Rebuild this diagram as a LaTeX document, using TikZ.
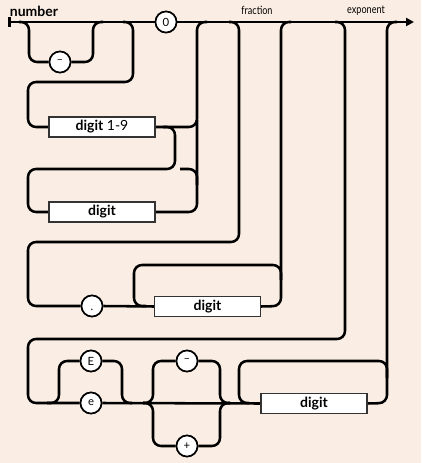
\documentclass[tikz,border=0pt]{standalone}
\usepackage{fontspec}
\setmainfont{Lato}
\usetikzlibrary{arrows.meta}
\definecolor{bg}{RGB}{250,238,228}
\begin{document}
\begin{tikzpicture}[x=0.75pt,y=-0.75pt,
 rail/.style={line width=1.9pt, rounded corners=6pt},
 term/.style={circle, draw, line width=1.2pt, fill=white, minimum size=15.75pt, inner sep=0pt, font=\fontsize{8.5}{9}\selectfont},
 nonterm/.style={rectangle, draw=black!80, line width=0.9pt, fill=white, minimum width=79.5pt, minimum height=15pt, inner sep=0pt, font=\fontsize{10.5}{12}\selectfont},
 title/.style={font=\bfseries\fontsize{10.5}{12}\selectfont},
 sect/.style={font=\fontsize{8.5}{10}\selectfont}]
\fill[bg] (0,0) rectangle (421,463);
\useasboundingbox (0,0) rectangle (421,463);
% labels
\node[title] (lblnumber) at (34,11) {number};
\node[sect] (lblfraction) at (257,10.5) {\scalebox{0.8}[1]{fraction}};
\node[sect] (lblexponent) at (366,10.5) {\scalebox{0.8}[1]{exponent}};
% terminals and nonterminals
\coordinate (start) at (8,22);
\coordinate (end) at (414,22);
\node[term] (m1) at (60,62) {\textendash};
\node[term] (zero) at (166,22) {0};
\node[nonterm] (d19) at (102,127) {\textbf{digit} 1-9};
\node[nonterm] (dig1) at (102,212) {\textbf{digit}};
\node[term] (dot) at (92,306) {\vphantom{0}.};
\node[nonterm] (fdig) at (207.5,306.5) {\textbf{digit}};
\node[term] (E) at (91,361) {E};
\node[term] (e) at (91,403) {e};
\node[term] (sminus) at (187,361) {\textendash};
\node[term] (splus) at (187,446) {+};
\node[nonterm] (edig) at (314,403.5) {\textbf{digit}};
% main line
\draw[rail,{Bar[width=7pt]}-] (start) -- (zero.west);
\draw[rail,-{Triangle[length=6pt,width=6pt]}] (zero.east) -- (end);
% minus
\draw[rail] (19,22) -- (29,22) -- (29,62) -- (m1.west);
\draw[rail] (m1.east) -- (93,62) -- (93,22) -- (103,22);
% digit 1-9
\draw[rail] (123,22) -- (133,22) -- (133,82) -- (28,82) -- (28,127) -- (d19.west);
\draw[rail] (d19.east) -- (197,127) -- (197,22) -- (207,22);
% digit loop
\draw[rail] (163,127) -- (175,127) -- (175,169) -- (28,169) -- (28,212) -- (dig1.west);
\draw[rail] (197,185) -- (197,169) -- (180,169);
\draw[rail] (dig1.east) -- (197,212) -- (197,120);
% fraction
\draw[rail] (229,22) -- (239,22) -- (239,242) -- (28,242) -- (28,306) -- (dot.west);
\draw[rail] (dot.east) -- (fdig.west);
\draw[rail] (281,280) -- (281,265) -- (134,265) -- (134,306) -- (146,306);
\draw[rail] (fdig.east) -- (281,306) -- (281,22) -- (291,22);
% exponent
\draw[rail] (335,22) -- (345,22) -- (345,339) -- (28,339) -- (28,403) -- (e.west);
\draw[rail] (47,403) -- (59,403) -- (59,361) -- (E.west);
\draw[rail] (E.east) -- (122,361) -- (122,403) -- (132,403);
\draw[rail] (e.east) -- (edig.west);
\draw[rail] (143,403) -- (153,403) -- (153,361) -- (sminus.west);
\draw[rail] (sminus.east) -- (220,361) -- (220,403) -- (230,403);
\draw[rail] (143,403) -- (153,403) -- (153,446) -- (splus.west);
\draw[rail] (splus.east) -- (220,446) -- (220,403) -- (230,403);
\draw[rail] (387,378) -- (387,361) -- (239,361) -- (239,403) -- (249,403);
\draw[rail] (edig.east) -- (387,403) -- (387,22) -- (397,22);
% redraw nodes on top
\node[term] at (m1) {\textendash};
\node[term] at (zero) {0};
\node[nonterm] at (d19) {\textbf{digit} 1-9};
\node[nonterm] at (dig1) {\textbf{digit}};
\node[term] at (dot) {\vphantom{0}.};
\node[nonterm] at (fdig) {\textbf{digit}};
\node[term] at (E) {E};
\node[term] at (e) {e};
\node[term] at (sminus) {\textendash};
\node[term] at (splus) {+};
\node[nonterm] at (edig) {\textbf{digit}};
\end{tikzpicture}
\end{document}
